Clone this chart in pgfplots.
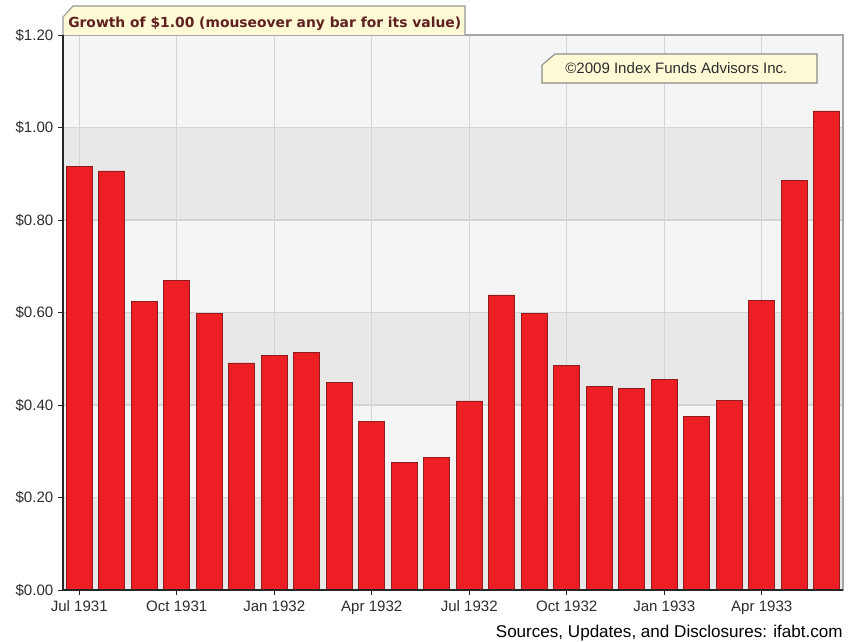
\documentclass[border=0pt]{standalone}
\usepackage{fontspec}
\setmainfont{Liberation Sans}
\newfontfamily\titlefont{DejaVu Sans}
\usepackage{pgfplots}
\pgfplotsset{compat=1.18}
\definecolor{barred}{RGB}{237,31,36}
\definecolor{baredge}{RGB}{140,30,30}
\definecolor{banddark}{RGB}{232,232,232}
\definecolor{bandlight}{RGB}{245,245,245}
\definecolor{gridc}{RGB}{212,212,212}
\definecolor{cream}{RGB}{255,250,214}
\definecolor{titlec}{RGB}{95,32,32}
\definecolor{txt}{RGB}{45,45,45}
\begin{document}
\begin{tikzpicture}[x=0.75pt,y=0.75pt]
\useasboundingbox (0,0) rectangle (853,642);
% background bands (plot area: x 63..843, y 52..607)
\fill[banddark]  (63,52)    rectangle (843,144.5);
\fill[bandlight] (63,144.5) rectangle (843,237);
\fill[banddark]  (63,237)   rectangle (843,329.5);
\fill[bandlight] (63,329.5) rectangle (843,422);
\fill[banddark]  (63,422)   rectangle (843,514.5);
\fill[bandlight] (63,514.5) rectangle (843,607);
\begin{axis}[
  at={(47.25pt,39pt)}, anchor=south west,
  scale only axis, width=585pt, height=416.25pt,
  xmin=-0.5, xmax=23.5, ymin=0, ymax=1.2,
  ybar, bar width=0.8,
  xtick={0,3,6,9,12,15,18,21},
  xticklabels={Jul 1931,Oct 1931,Jan 1932,Apr 1932,Jul 1932,Oct 1932,Jan 1933,Apr 1933},
  ytick={0,0.2,0.4,0.6,0.8,1.0,1.2},
  yticklabel={\$\pgfmathprintnumber[fixed,fixed zerofill,precision=2]{\tick}},
  /pgf/number format/assume math mode=true,
  grid=major,
  major grid style={draw=gridc, line width=1.1pt},
  axis line style={draw=black!35, line width=0.9pt},
  tick align=outside, xtick pos=bottom, ytick pos=left,
  major tick length=3.75pt,
  tick style={draw=black!85, line width=0.7pt},
  tick label style={font=\fontsize{11.3}{13}\selectfont, text=txt},
  xticklabel style={yshift=-1pt},
  clip=false,
]
\addplot[fill=barred, draw=baredge, line width=0.5pt] coordinates {
(0,0.915) (1,0.906) (2,0.624) (3,0.670) (4,0.598) (5,0.491)
(6,0.507) (7,0.513) (8,0.449) (9,0.365) (10,0.276) (11,0.286)
(12,0.409) (13,0.638) (14,0.598) (15,0.486) (16,0.440) (17,0.435)
(18,0.456) (19,0.376) (20,0.410) (21,0.626) (22,0.885) (23,1.036)
};
\end{axis}
% dark left and bottom axis lines
\draw[black!85, line width=1pt] (63,607) -- (63,52) -- (843,52);
% title box
\draw[draw=black!40, fill=cream, line width=0.8pt] (63,607) -- (63,625) -- (73,636) -- (465,636) -- (465,607);
\node[anchor=base west, inner sep=0pt, text=titlec, font=\titlefont\bfseries\fontsize{10.4}{12}\selectfont] at (68,614) {Growth of \$1.00 (mouseover any bar for its value)};
% copyright box
\draw[draw=black!45, fill=cream, line width=0.8pt] (542,559) -- (542,577) -- (555,588) -- (817,588) -- (817,559) -- cycle;
\node[anchor=base west, inner sep=0pt, text=txt, font=\fontsize{11.3}{13}\selectfont] at (565,568) {\textcopyright2009 Index Funds Advisors Inc.};
% footer
\node[anchor=base east, inner sep=0pt, text=black, font=\fontsize{12.8}{15}\selectfont] at (843,4) {Sources, Updates, and Disclosures: ifabt.com};
\end{tikzpicture}
\end{document}
